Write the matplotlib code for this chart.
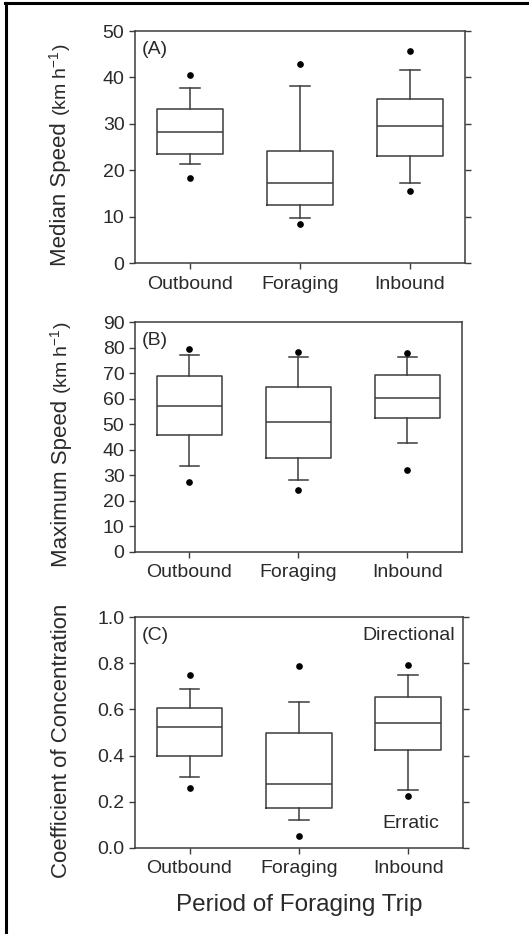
import matplotlib
matplotlib.use("Agg")
import matplotlib.pyplot as plt
from matplotlib.lines import Line2D

plt.rcParams['font.family'] = ['Liberation Sans', 'DejaVu Sans']

periods = ["Outbound", "Foraging", "Inbound"]

# panel A - median speed (km/h)
a_whislo = [21.4, 9.7, 17.2]
a_q1 = [23.5, 12.6, 23.1]
a_med = [28.3, 17.2, 29.6]
a_q3 = [33.2, 24.2, 35.3]
a_whishi = [37.8, 38.2, 41.5]
a_fliers = [[40.5, 18.3], [42.8, 8.5], [45.6, 15.6]]

# panel B - maximum speed (km/h)
b_whislo = [33.7, 28.2, 42.8]
b_q1 = [45.9, 36.8, 52.6]
b_med = [57.3, 51.0, 60.3]
b_q3 = [69.0, 64.7, 69.4]
b_whishi = [77.1, 76.4, 76.4]
b_fliers = [[79.4, 27.4], [78.3, 24.4], [77.9, 32.2]]

# panel C - coefficient of concentration
c_whislo = [0.307, 0.119, 0.253]
c_q1 = [0.398, 0.175, 0.425]
c_med = [0.525, 0.279, 0.540]
c_q3 = [0.606, 0.496, 0.654]
c_whishi = [0.687, 0.632, 0.751]
c_fliers = [[0.751, 0.260], [0.787, 0.052], [0.792, 0.226]]

line_col = "#3c3c3c"
text_col = "#2a2a2a"


def make_stats(lo, q1, med, q3, hi, fl):
    out = []
    for i in range(len(periods)):
        out.append(dict(whislo=lo[i], q1=q1[i], med=med[i], q3=q3[i],
                        whishi=hi[i], fliers=fl[i], label=periods[i]))
    return out


def draw_panel(ax, stats, ylim, yticks, fmt, letter, ylab, unit, right_ticks, lab_y):
    lp = dict(color=line_col, linewidth=1.1)
    ax.bxp(stats, positions=[1, 2, 3], widths=0.6, capwidths=0.18,
           boxprops=lp, whiskerprops=lp, capprops=lp, medianprops=lp,
           flierprops=dict(marker='o', markerfacecolor='black', markeredgecolor='black',
                           markersize=3.8, linestyle='none'))
    ax.set_xlim(0.5, 3.5)
    ax.set_ylim(*ylim)
    ax.set_yticks(yticks)
    ax.set_yticklabels([fmt.format(v) for v in yticks])
    ax.set_xticks([1, 2, 3])
    ax.set_xticklabels(periods)
    for s in ax.spines.values():
        s.set_color(line_col)
        s.set_linewidth(1.1)
    ax.tick_params(axis='both', direction='out', length=4, width=1.0, color=line_col,
                   labelcolor=text_col, labelsize=14)
    ax.tick_params(axis='x', pad=5, labelsize=14)
    if right_ticks:
        ax.tick_params(axis='y', right=True, labelright=False)
    ax.text(0.022, 0.955, letter, transform=ax.transAxes, ha='left', va='top',
            fontsize=14, color=text_col)
    t1 = ax.text(-0.225, lab_y, ylab + " ", transform=ax.transAxes, rotation=90,
                 ha='center', va='center', fontsize=16, color=text_col)
    if unit:
        ax.annotate(unit, xy=(0.5, 1.0), xycoords=t1, rotation=90,
                    ha='center', va='bottom', fontsize=14, color=text_col)


fig = plt.figure(figsize=(5.29, 9.34), dpi=100)

ax1 = fig.add_axes([0.255, 0.7184, 0.624, 0.2484])
draw_panel(ax1, make_stats(a_whislo, a_q1, a_med, a_q3, a_whishi, a_fliers),
           (0, 50), [0, 10, 20, 30, 40, 50], "{:d}", "(A)", "Median Speed",
           r"(km h$^{\mathregular{-1}}$)", True, 0.31)

ax2 = fig.add_axes([0.255, 0.409, 0.618, 0.2462])
draw_panel(ax2, make_stats(b_whislo, b_q1, b_med, b_q3, b_whishi, b_fliers),
           (0, 90), list(range(0, 91, 10)), "{:d}", "(B)", "Maximum Speed",
           r"(km h$^{\mathregular{-1}}$)", False, 0.31)

ax3 = fig.add_axes([0.255, 0.0921, 0.620, 0.2473])
draw_panel(ax3, make_stats(c_whislo, c_q1, c_med, c_q3, c_whishi, c_fliers),
           (0, 1.0), [0.0, 0.2, 0.4, 0.6, 0.8, 1.0], "{:.1f}", "(C)",
           "Coefficient of Concentration", None, True, 0.476)
ax3.text(0.975, 0.92, "Directional", transform=ax3.transAxes, ha='right', va='center',
         fontsize=14, color=text_col)
ax3.text(3.02, 0.105, "Erratic", ha='center', va='center', fontsize=14, color=text_col)
ax3.set_xlabel("Period of Foraging Trip", fontsize=17.5, color=text_col, labelpad=12)

# frame lines round the figure (top and left only)
fig.add_artist(Line2D([5 / 529, 1.0], [1 - 3 / 934, 1 - 3 / 934], transform=fig.transFigure,
                      color='black', linewidth=2.2))
fig.add_artist(Line2D([6 / 529, 6 / 529], [0.0, 1 - 3 / 934], transform=fig.transFigure,
                      color='black', linewidth=2.2))

fig.savefig("out.png", dpi=100, facecolor='white')
